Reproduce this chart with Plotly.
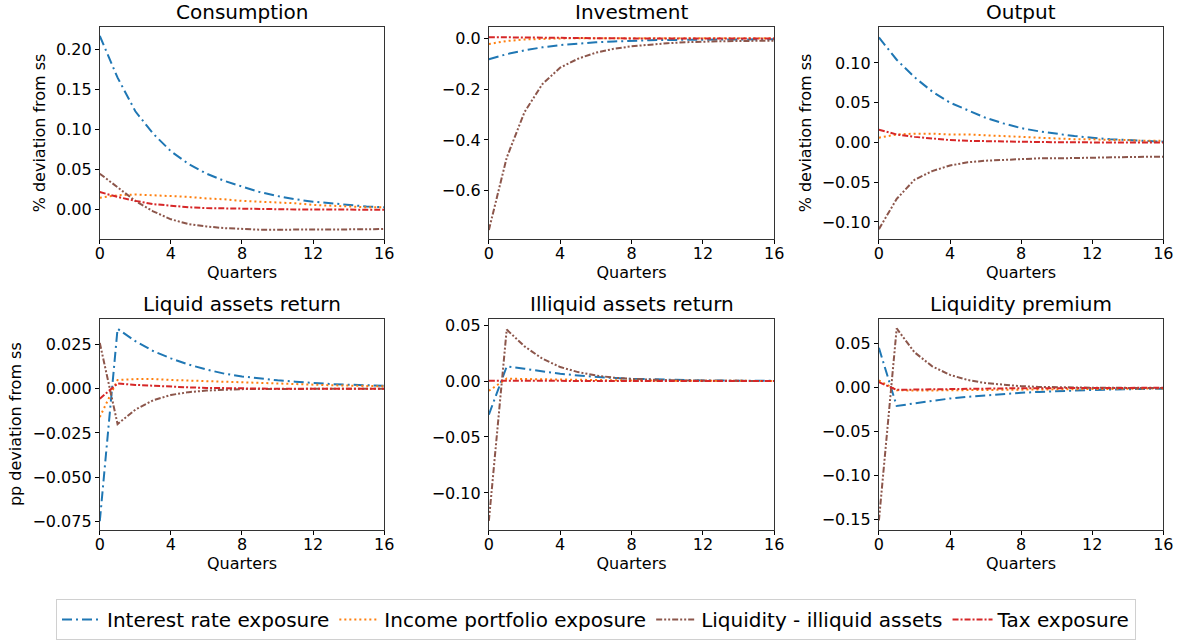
import plotly.graph_objects as go

quarters = list(range(17))

series_names = ["Interest rate exposure", "Income portfolio exposure",
                "Liquidity - illiquid assets", "Tax exposure"]

panel_titles = ["Consumption", "Investment", "Output",
                "Liquid assets return", "Illiquid assets return", "Liquidity premium"]

# Consumption
cons_interest = [0.217, 0.165, 0.123, 0.095, 0.073, 0.057, 0.045, 0.036, 0.029, 0.022, 0.017, 0.013, 0.010, 0.008, 0.006, 0.004, 0.003]
cons_income = [0.015, 0.018, 0.019, 0.018, 0.017, 0.016, 0.014, 0.013, 0.011, 0.010, 0.009, 0.008, 0.006, 0.005, 0.004, 0.003, 0.003]
cons_liq = [0.045, 0.028, 0.011, -0.002, -0.012, -0.018, -0.021, -0.023, -0.024, -0.025, -0.025, -0.025, -0.025, -0.025, -0.0245, -0.0245, -0.024]
cons_tax = [0.022, 0.016, 0.011, 0.007, 0.005, 0.003, 0.002, 0.0015, 0.001, 0.0007, 0.0005, 0.0003, 0.0002, 0.0001, 0.0, 0.0, 0.0]

# Investment
inv_interest = [-0.082, -0.062, -0.047, -0.035, -0.026, -0.020, -0.015, -0.012, -0.009, -0.007, -0.006, -0.005, -0.004, -0.004, -0.003, -0.003, -0.003]
inv_income = [-0.022, -0.010, -0.004, -0.001, 0.000, 0.001, 0.001, 0.001, 0.001, 0.001, 0.001, 0.001, 0.001, 0.001, 0.001, 0.001, 0.001]
inv_liq = [-0.755, -0.47, -0.29, -0.18, -0.115, -0.080, -0.056, -0.041, -0.031, -0.024, -0.019, -0.015, -0.012, -0.011, -0.010, -0.009, -0.009]
inv_tax = [0.005, 0.004, 0.003, 0.002, 0.001, 0.001, 0.0005, 0.0003, 0.0002, 0.0001, 0.0, 0.0, 0.0, 0.0, 0.0, 0.0, 0.0]

# Output
out_interest = [0.132, 0.104, 0.082, 0.064, 0.050, 0.040, 0.031, 0.024, 0.018, 0.014, 0.011, 0.008, 0.006, 0.004, 0.003, 0.002, 0.001]
out_income = [0.006, 0.010, 0.011, 0.011, 0.010, 0.010, 0.009, 0.008, 0.007, 0.006, 0.005, 0.004, 0.004, 0.003, 0.003, 0.002, 0.002]
out_liq = [-0.109, -0.071, -0.047, -0.036, -0.029, -0.025, -0.023, -0.022, -0.021, -0.020, -0.020, -0.0195, -0.019, -0.019, -0.0185, -0.018, -0.018]
out_tax = [0.016, 0.010, 0.007, 0.005, 0.003, 0.002, 0.0015, 0.001, 0.0005, 0.0003, 0.0002, 0.0001, 0.0, 0.0, 0.0, 0.0, 0.0]

# Liquid assets return
liqr_interest = [-0.075, 0.034, 0.027, 0.0214, 0.0172, 0.0137, 0.0109, 0.0086, 0.0070, 0.0058, 0.0048, 0.0040, 0.0032, 0.0027, 0.0023, 0.0020, 0.0017]
liqr_income = [-0.016, 0.005, 0.0055, 0.0055, 0.005, 0.0048, 0.0045, 0.004, 0.0037, 0.0033, 0.003, 0.0027, 0.0024, 0.002, 0.0018, 0.0016, 0.0014]
liqr_liq = [0.026, -0.020, -0.0118, -0.0065, -0.0035, -0.0019, -0.001, -0.0005, -0.0002, -0.0001, 0.0, 0.0, 0.0, 0.0, 0.0, 0.0, 0.0]
liqr_tax = [-0.0056, 0.003, 0.0022, 0.0016, 0.0011, 0.0008, 0.0005, 0.0003, 0.0002, 0.0001, 0.0, 0.0, 0.0, 0.0, 0.0, 0.0, 0.0]

# Illiquid assets return
illr_interest = [-0.030, 0.013, 0.011, 0.0085, 0.0065, 0.005, 0.0037, 0.0027, 0.002, 0.0015, 0.0011, 0.0008, 0.0006, 0.0004, 0.0003, 0.0002, 0.0002]
illr_income = [-0.0087, 0.0022, 0.0018, 0.0015, 0.0012, 0.001, 0.0008, 0.0006, 0.0005, 0.0004, 0.0003, 0.0002, 0.0002, 0.0001, 0.0001, 0.0001, 0.0001]
illr_liq = [-0.125, 0.046, 0.031, 0.020, 0.0125, 0.008, 0.005, 0.003, 0.0019, 0.0012, 0.0008, 0.0005, 0.0003, 0.0002, 0.0001, 0.0001, 0.0]
illr_tax = [0.0003, 0.0002, 0.0002, 0.0001, 0.0001, 0.0, 0.0, 0.0, 0.0, 0.0, 0.0, 0.0, 0.0, 0.0, 0.0, 0.0, 0.0]

# Liquidity premium
lp_interest = [0.045, -0.021, -0.018, -0.015, -0.0125, -0.0105, -0.0088, -0.0073, -0.006, -0.005, -0.0041, -0.0034, -0.0028, -0.0023, -0.0019, -0.0016, -0.0013]
lp_income = [0.008, -0.003, -0.0035, -0.0035, -0.0033, -0.003, -0.0028, -0.0026, -0.0024, -0.0022, -0.002, -0.0018, -0.0016, -0.0015, -0.0013, -0.0012, -0.0011]
lp_liq = [-0.151, 0.067, 0.040, 0.024, 0.0143, 0.0085, 0.005, 0.003, 0.0015, 0.0007, 0.0002, -0.0001, -0.0003, -0.0004, -0.0005, -0.0005, -0.0005]
lp_tax = [0.006, -0.0027, -0.0024, -0.002, -0.0017, -0.0014, -0.0012, -0.001, -0.0009, -0.0008, -0.0007, -0.0006, -0.0005, -0.0005, -0.0004, -0.0004, -0.0003]

x_ticks = [0, 4, 8, 12, 16]
y_ticks = [
    [0.0, 0.05, 0.10, 0.15, 0.20],
    [-0.6, -0.4, -0.2, 0.0],
    [-0.10, -0.05, 0.0, 0.05, 0.10],
    [-0.075, -0.050, -0.025, 0.0, 0.025],
    [-0.10, -0.05, 0.0, 0.05],
    [-0.15, -0.10, -0.05, 0.0, 0.05],
]
y_formats = [".2f", ".1f", ".2f", ".3f", ".2f", ".2f"]
y_ranges = [
    [-0.0368, 0.2285],
    [-0.791, 0.0458],
    [-0.1216, 0.1454],
    [-0.0799, 0.0398],
    [-0.133, 0.0559],
    [-0.1616, 0.0783],
]
y_titles = ["% deviation from ss", "", "% deviation from ss", "pp deviation from ss", "", ""]

panels = [
    [cons_interest, cons_income, cons_liq, cons_tax],
    [inv_interest, inv_income, inv_liq, inv_tax],
    [out_interest, out_income, out_liq, out_tax],
    [liqr_interest, liqr_income, liqr_liq, liqr_tax],
    [illr_interest, illr_income, illr_liq, illr_tax],
    [lp_interest, lp_income, lp_liq, lp_tax],
]

colors = ["#1f77b4", "#ff7f0e", "#8c564b", "#d62728"]
dashes = ["10px,4px,2px,4px", "2px,3px", "6px,2px,2px,2px,2px,2px", "6px,2px,2px,2px"]

W, H = 1197, 640
col_px = [(96, 384), (490, 779), (885, 1173)]
row_px = [(24, 238), (318, 531)]

fig = go.Figure()
FONT = "DejaVu Sans"

for p in range(6):
    r, c = divmod(p, 3)
    ax = "" if p == 0 else str(p + 1)
    for s in range(4):
        fig.add_trace(go.Scatter(
            x=quarters, y=panels[p][s], mode="lines",
            name=series_names[s],
            line=dict(color=colors[s], width=2, dash=dashes[s]),
            showlegend=(p == 0),
            xaxis="x" + ax, yaxis="y" + ax,
        ))
    x0, x1 = col_px[c]
    y0, y1 = row_px[r]
    fig.update_layout(**{
        "xaxis" + ax: dict(
            domain=[x0 / W, x1 / W], anchor="y" + ax, range=[0, 16],
            tickvals=x_ticks, ticks="outside", ticklen=4, tickwidth=1,
            tickcolor="#000", showline=True, linecolor="#333", linewidth=1, mirror=True,
            showgrid=False, zeroline=False, ticklabelstandoff=-4,
            tickfont=dict(size=16, color="#000"),
            title=dict(text="Quarters", font=dict(size=16, color="#000"), standoff=2),
        ),
        "yaxis" + ax: dict(
            domain=[1 - y1 / H, 1 - y0 / H], anchor="x" + ax, range=y_ranges[p],
            tickvals=y_ticks[p], tickformat=y_formats[p], ticks="outside", ticklen=4,
            tickwidth=1, tickcolor="#000", showline=True, linecolor="#333", linewidth=1,
            mirror=True, showgrid=False, zeroline=False,
            tickfont=dict(size=16, color="#000"),
            title=dict(text=y_titles[p], font=dict(size=16, color="#000"), standoff=6),
        ),
    })
    fig.add_annotation(
        text=panel_titles[p], x=(x0 + x1) / 2 / W, y=1 - (y0 - 1) / H,
        xref="paper", yref="paper", xanchor="center", yanchor="bottom",
        showarrow=False, font=dict(size=20, color="#000"),
    )

fig.update_layout(
    width=W, height=H,
    margin=dict(l=0, r=0, t=0, b=0),
    paper_bgcolor="white", plot_bgcolor="white",
    font=dict(family=FONT, color="#000"),
    legend=dict(
        orientation="h", x=0.5, xanchor="center", y=1 - 601 / H, yanchor="top",
        font=dict(size=20, color="#000"), bordercolor="#d0d0d0", borderwidth=1,
        itemwidth=40,
    ),
)

fig.write_html("out.html")
